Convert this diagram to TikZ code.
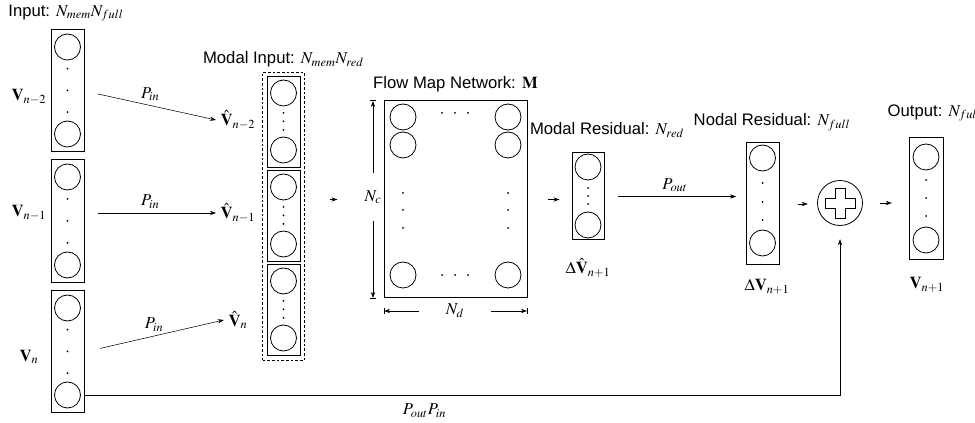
\documentclass[tikz,border=0pt]{standalone}
\usepackage{amsmath}
\usepackage{mathptmx}
\usepackage[no-math]{fontspec}
\setmainfont{Liberation Sans}
\usetikzlibrary{arrows.meta, positioning, fit, calc}

\begin{document}
\begin{tikzpicture}[x=0.75pt, y=-0.75pt,
    every node/.style={font=\fontsize{12.5}{14}\selectfont},
    layer/.style={draw, line width=0.75pt, inner sep=0pt},
    unit/.style={draw, circle, line width=0.6pt, minimum size=19.5pt, inner sep=0pt},
    dot/.style={circle, fill, minimum size=1.5pt, inner sep=0pt},
    >={Stealth[length=4.5pt, width=3.2pt]}]
\useasboundingbox (0,0) rectangle (975,423);
\clip (0,0) rectangle (975,423);

% Input columns
\foreach \i/\t/\b in {1/30/152, 2/160/283, 3/291/413}{
  \node[layer, fit={(51,\t) (84,\b)}] (in\i) {};
  \node[unit] (in\i-t) at (67.5,\t+17) {};
  \node[unit] (in\i-b) at (67.5,\b-18) {};
  \foreach \k in {1,2,3}
    \node[dot] at (67.5,{\t+17+\k*(\b-\t-35)/4}) {};
}
\node at (66,13) {Input: $N_{mem}N_{full}$};
\node (v1) at (29,97) {$\mathbf{V}_{n-2}$};
\node (v2) at (29,213) {$\mathbf{V}_{n-1}$};
\node (v3) at (29,357) {$\mathbf{V}_{n}$};

% Modal input
\foreach \i/\t in {1/77, 2/171, 3/265}{
  \node[layer, fit={(267,\t) (300,\t+91)}] (m\i) {};
  \node[unit] (m\i-t) at (283.5,\t+16) {};
  \node[unit] (m\i-b) at (283.5,\t+73) {};
  \foreach \k in {0,1,2}
    \node[dot] at (283.5,{\t+36+\k*8.5}) {};
}
\node[draw, line width=0.7pt, dash pattern=on 2pt off 1.5pt, fit=(m1)(m3), inner sep=3pt] (modal) {};
\node[above=0pt of modal] {Modal Input: $N_{mem}N_{red}$};

\node (vh1) at (238,120) {$\hat{\mathbf{V}}_{n-2}$};
\node (vh2) at (238,213) {$\hat{\mathbf{V}}_{n-1}$};
\node (vh3) at (238,320) {$\hat{\mathbf{V}}_{n}$};

\draw[->, shorten <=10pt] (in1.east) -- (vh1.west) node[midway, above=0pt] {$P_{in}$};
\draw[->, shorten <=10pt] (vh2.west -| in2.east) -- (vh2.west) node[midway, above=0pt] {$P_{in}$};
\draw[->, shorten <=12pt] (in3.east) -- (vh3.west) node[midway, above=0pt] {$P_{in}$};

% Flow map network
\node[layer, fit={(384,101) (527,298)}] (flow) {};
\node[above=3pt of flow] {Flow Map Network: $\mathbf{M}$};
\foreach \x in {403,508}{
  \node[unit] at (\x,117) {};
  \node[unit] at (\x,145) {};
  \node[unit] at (\x,275) {};
  \foreach \y in {193,210,228}
    \node[dot] at (\x,\y) {};
}
\foreach \x in {442,455,468}{
  \node[dot] at (\x,113) {};
  \node[dot] at (\x,275) {};
}
\draw[->, shorten <=19pt, shorten >=34.5pt] (modal.east |- flow.west) -- (flow.west);

% Dimensions
\node[inner xsep=0pt, inner ysep=13pt] (nc) at (373,197) {$N_c$};
\draw[->|] (nc) -- (nc |- flow.north);
\draw[->|] (nc) -- (nc |- flow.south);
\node[inner ysep=0pt, inner xsep=20pt] (nd) at (455,311) {$N_d$};
\draw[->|] (nd) -- (nd -| flow.west);
\draw[->|] (nd) -- (nd -| flow.east);

% Modal residual
\node[layer, fit={(572,153) (604,240)}] (mres) {};
\node[unit] at (588,167) {};
\node[unit] at (588,225) {};
\foreach \y in {188,196,204}
  \node[dot] at (588,\y) {};
\node at (607,130) {Modal Residual: $N_{red}$};
\node at (588,268) {$\Delta\hat{\mathbf{V}}_{n+1}$};
\draw[->, shorten <=15pt, shorten >=9pt] (flow.east) -- (flow.east -| mres.west);

% Nodal residual
\node[layer, fit={(746,143) (779,265)}] (nres) {};
\node[unit] at (762.5,158) {};
\node[unit] at (762.5,243) {};
\foreach \y in {183,202,220}
  \node[dot] at (762.5,\y) {};
\node at (772,122) {Nodal Residual: $N_{full}$};
\node at (767,287) {$\Delta\mathbf{V}_{n+1}$};
\draw[->, shorten <=10pt, shorten >=7pt] (mres.east) -- (mres.east -| nres.west)
  node[midway, above=0pt] {$P_{out}$};

% Sum and output
\node[draw, circle, line width=0.6pt, minimum size=33.75pt, inner sep=0pt] (plus) at (840,203) {};
\draw[line width=0.6pt] (plus.center) ++(-15,-5) -- ++(10,0) -- ++(0,-10) -- ++(10,0) -- ++(0,10)
  -- ++(10,0) -- ++(0,10) -- ++(-10,0) -- ++(0,10) -- ++(-10,0) -- ++(0,-10) -- ++(-10,0) -- cycle;
\node[layer, fit={(909,138) (943,260)}] (out) {};
\node[unit] at (926,157) {};
\node[unit] at (926,240) {};
\foreach \y in {180,198,216}
  \node[dot] at (926,\y) {};
\node[anchor=west] at (883,113) {Output: $N_{full}$};
\node at (927,285) {$\mathbf{V}_{n+1}$};
\draw[->, shorten <=13.5pt, shorten >=7pt] (nres.east) -- (nres.east -| plus.west);
\draw[->, shorten <=13pt, shorten >=12.5pt] (plus.east) -- (plus.east -| out.west);

% Skip connection
\draw[->, shorten >=10pt] (in3.east |- in3-b) -| (plus.south)
  node[pos=0.225, below=3pt] {$P_{out}P_{in}$};

\end{tikzpicture}
\end{document}
